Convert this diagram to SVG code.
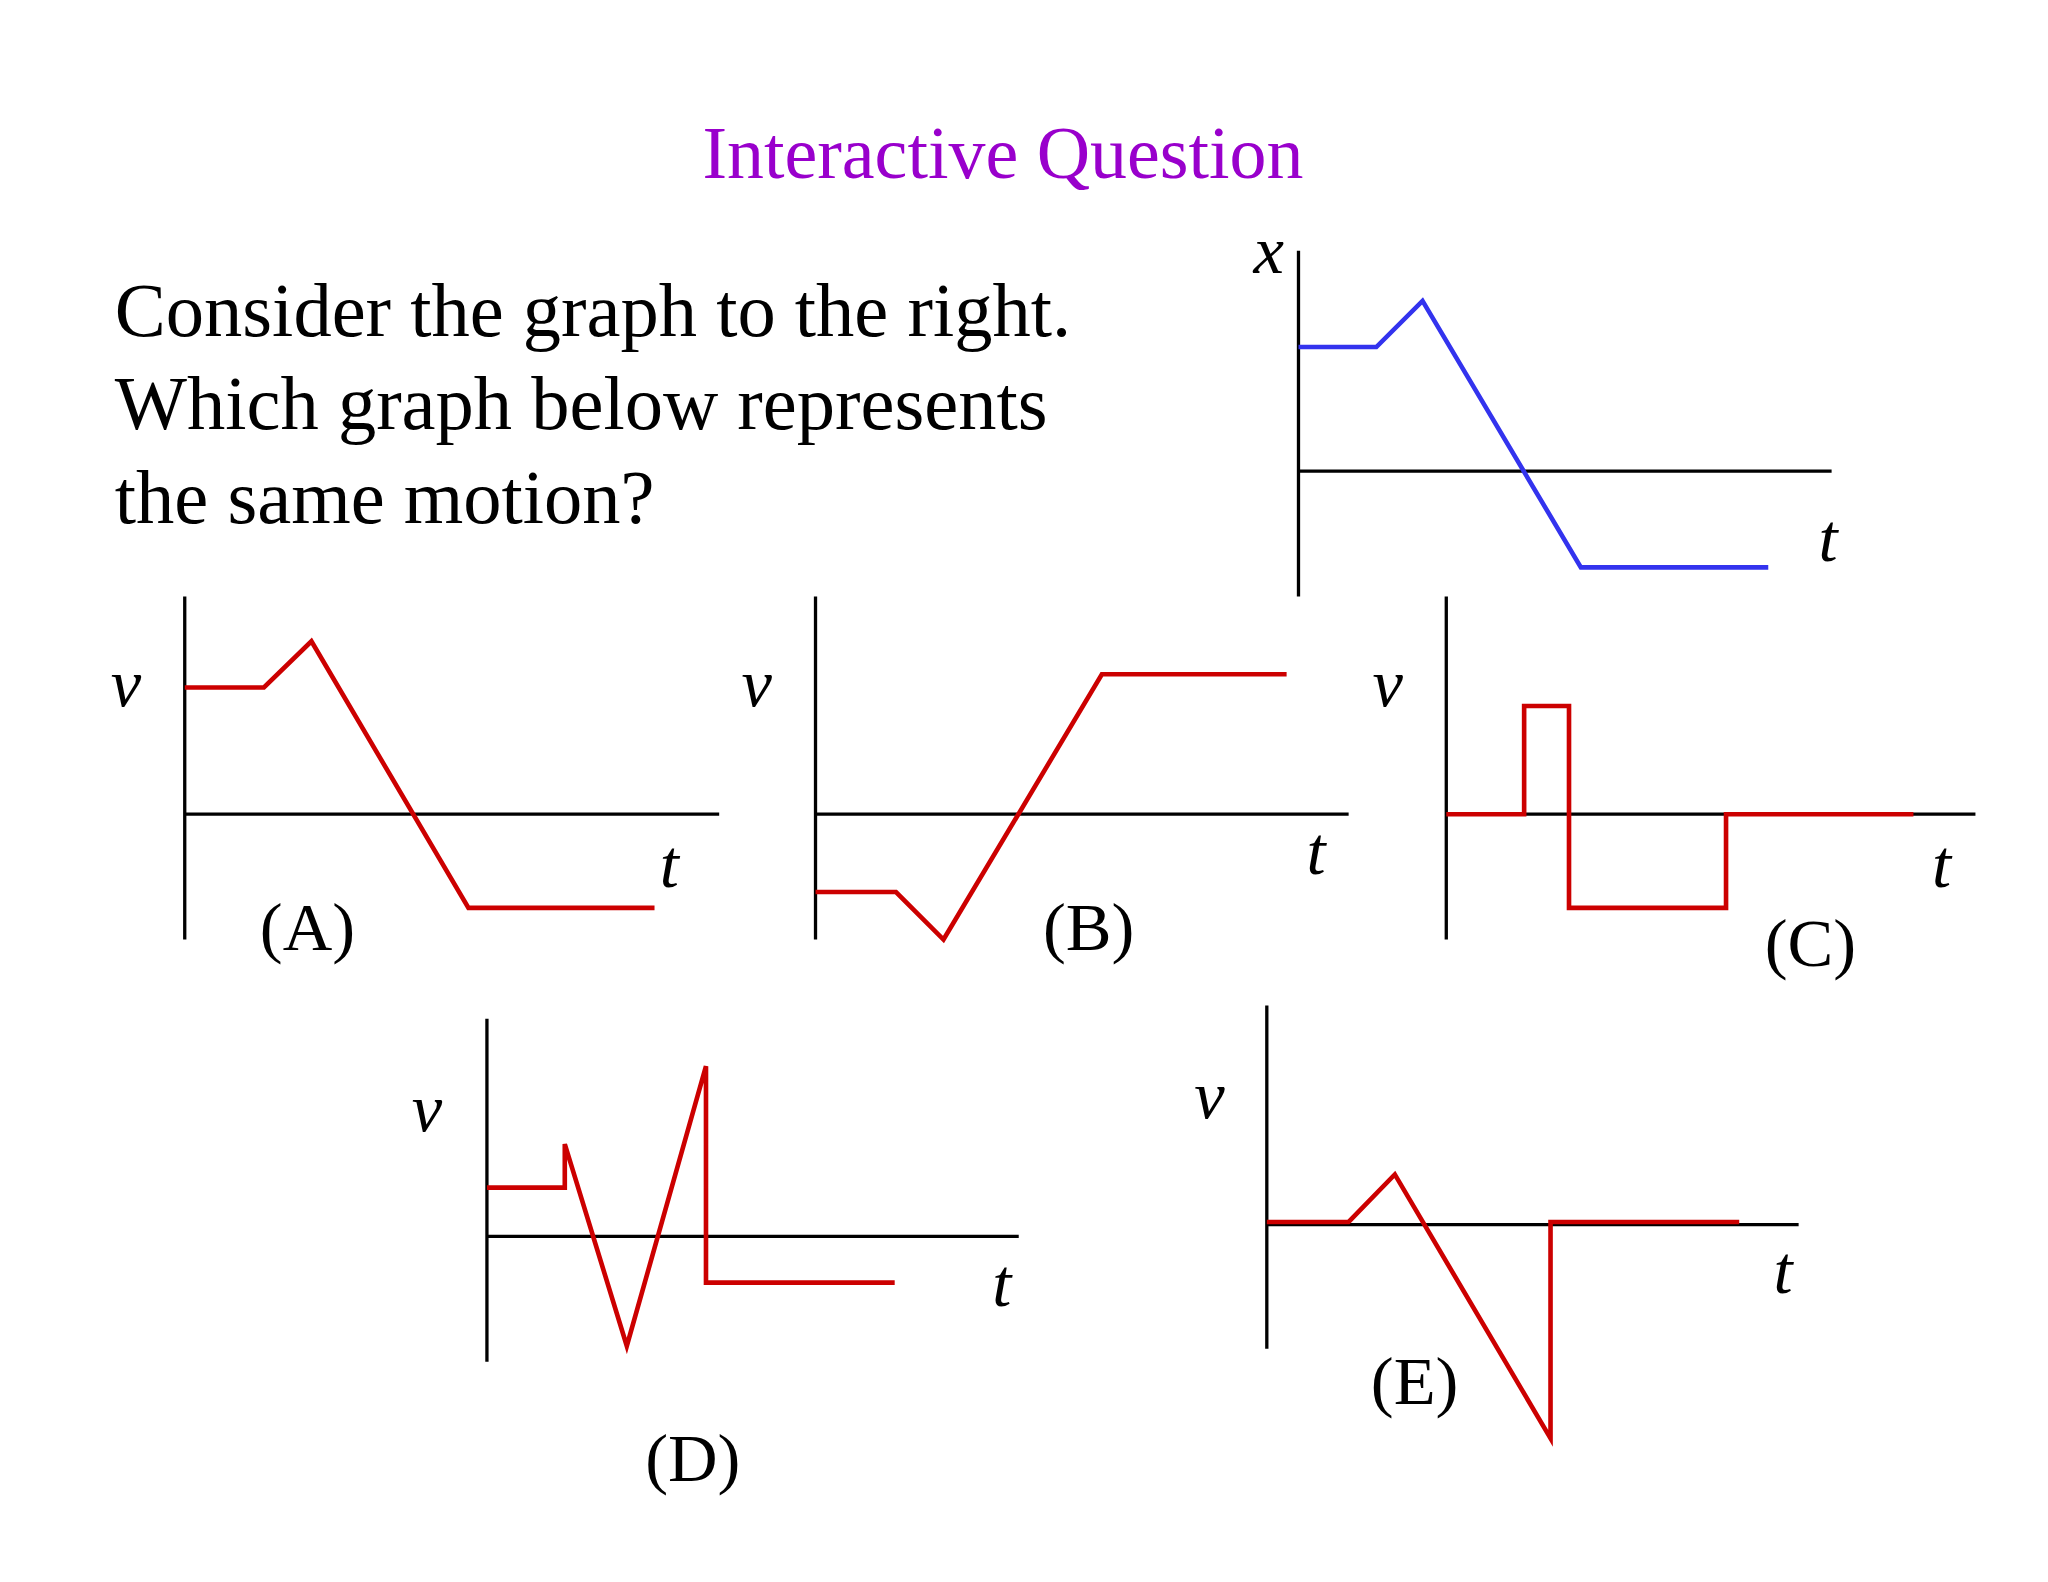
<svg xmlns="http://www.w3.org/2000/svg" width="2048" height="1582" viewBox="0 0 2048 1582">
<style>
.t{font-family:"Liberation Serif",serif;fill:#000}
.i{font-style:italic}
.ax{stroke:#000;stroke-width:2.5;fill:none}
.r{stroke:#CC0000;stroke-width:3.5;fill:none;stroke-linejoin:miter}
.b{stroke:#3333EE;stroke-width:3.5;fill:none}
</style>
<rect width="2048" height="1582" fill="#fff"/>
<g transform="scale(1.3196)">
<g id="title"><text x="760" y="135" text-anchor="middle" class="t" style="fill:#9900CC" font-size="56">Interactive Question</text></g>
<g id="question" class="t" font-size="58">
<text x="87" y="255">Consider the graph to the right.</text>
<text x="87" y="325">Which graph below represents</text>
<text x="87" y="396">the same motion?</text>
</g>
<g id="graphX">
<path class="ax" d="M984 190V452M984 357H1388"/>
<path class="b" d="M984 263H1043L1078 228L1198 430H1340"/>
<text class="t i" x="950" y="207" font-size="52">x</text>
<text class="t i" x="1378" y="425" font-size="52">t</text>
</g>
<g id="graphA">
<path class="ax" d="M140 452V712M140 617H545"/>
<path class="r" d="M140 521H200L236 486L355 688H496"/>
<text class="t i" x="84" y="535" font-size="52">v</text>
<text class="t i" x="500" y="672" font-size="52">t</text>
<text class="t" x="233" y="720" text-anchor="middle" font-size="52">(A)</text>
</g>
<g id="graphB">
<path class="ax" d="M618 452V712M618 617H1022"/>
<path class="r" d="M618 676H679L715 712L835 511H975"/>
<text class="t i" x="562" y="535" font-size="52">v</text>
<text class="t i" x="990" y="662" font-size="52">t</text>
<text class="t" x="825" y="720" text-anchor="middle" font-size="52">(B)</text>
</g>
<g id="graphC">
<path class="ax" d="M1096 452V712M1096 617H1497"/>
<path class="r" d="M1096 617H1155V535H1189V688H1308V617H1450"/>
<text class="t i" x="1040" y="535" font-size="52">v</text>
<text class="t i" x="1464" y="672" font-size="52">t</text>
<text class="t" x="1372" y="732" text-anchor="middle" font-size="52">(C)</text>
</g>
<g id="graphD">
<path class="ax" d="M369 772V1032M369 937H772"/>
<path class="r" d="M369 900H428V867L475 1020L535 808V972H678"/>
<text class="t i" x="312" y="857" font-size="52">v</text>
<text class="t i" x="752" y="990" font-size="52">t</text>
<text class="t" x="525" y="1122" text-anchor="middle" font-size="52">(D)</text>
</g>
<g id="graphE">
<path class="ax" d="M960 762V1022M960 928H1363"/>
<path class="r" d="M960 926H1022L1057 890L1175 1090V926H1318"/>
<text class="t i" x="905" y="847" font-size="52">v</text>
<text class="t i" x="1344" y="980" font-size="52">t</text>
<text class="t" x="1072" y="1064" text-anchor="middle" font-size="52">(E)</text>
</g>
</g>
</svg>
